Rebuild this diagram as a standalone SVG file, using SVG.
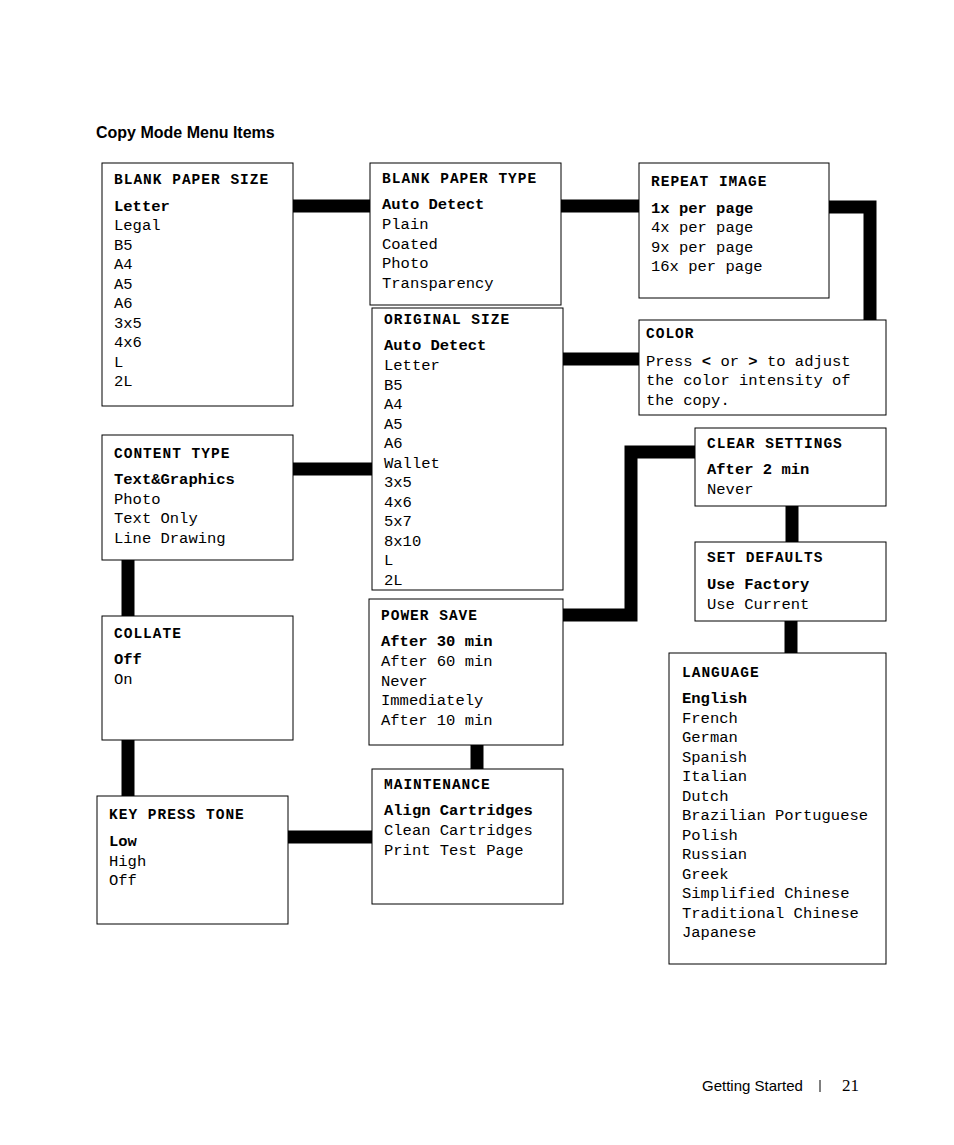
<svg xmlns="http://www.w3.org/2000/svg" width="954" height="1145" viewBox="0 0 954 1145">
<style>
rect{fill:#fff;stroke:#000;stroke-width:1}
text{font-family:"Liberation Mono","Courier New",monospace;font-size:15.5px;fill:#000}
.t{font-weight:bold;letter-spacing:1px;font-size:14.5px}
.b{font-weight:bold}
.c line,.c polyline{stroke:#000;stroke-width:13;fill:none}
</style>
<rect width="954" height="1145" style="stroke:none"/>
<text x="96" y="138" style="font-family:'Liberation Sans Narrow','Liberation Sans',sans-serif;font-weight:bold;font-size:16px">Copy Mode Menu Items</text>
<g class="c">
<line x1="293" y1="206" x2="370" y2="206"/>
<line x1="561" y1="206" x2="639" y2="206"/>
<polyline points="829,207 870,207 870,320"/>
<line x1="563" y1="359" x2="639" y2="359"/>
<line x1="293" y1="469" x2="372" y2="469"/>
<line x1="128" y1="560" x2="128" y2="616"/>
<line x1="128" y1="740" x2="128" y2="796"/>
<line x1="288" y1="837" x2="372" y2="837"/>
<line x1="477" y1="745" x2="477" y2="769"/>
<polyline points="563,615 631,615 631,452 695,452"/>
<line x1="792" y1="506" x2="792" y2="542"/>
<line x1="791" y1="621" x2="791" y2="653"/>
</g>
<g id="blank-paper-size"><rect x="102" y="163" width="191" height="243"/>
<text x="114" y="184" class="t">BLANK PAPER SIZE</text>
<text x="114" y="211" class="b">Letter</text>
<text x="114"><tspan x="114" y="230">Legal</tspan><tspan x="114" y="249.5">B5</tspan><tspan x="114" y="269">A4</tspan><tspan x="114" y="288.5">A5</tspan><tspan x="114" y="308">A6</tspan><tspan x="114" y="327.5">3x5</tspan><tspan x="114" y="347">4x6</tspan><tspan x="114" y="366.5">L</tspan><tspan x="114" y="386">2L</tspan></text></g>
<g id="blank-paper-type"><rect x="370" y="163" width="191" height="142"/>
<text x="382" y="183" class="t">BLANK PAPER TYPE</text>
<text x="382" y="209" class="b">Auto Detect</text>
<text><tspan x="382" y="229">Plain</tspan><tspan x="382" y="248.5">Coated</tspan><tspan x="382" y="268">Photo</tspan><tspan x="382" y="287.5">Transparency</tspan></text></g>
<g id="repeat-image"><rect x="639" y="163" width="190" height="135"/>
<text x="651" y="186" class="t">REPEAT IMAGE</text>
<text x="651" y="213" class="b">1x per page</text>
<text><tspan x="651" y="232">4x per page</tspan><tspan x="651" y="251.5">9x per page</tspan><tspan x="651" y="271">16x per page</tspan></text></g>
<g id="original-size"><rect x="372" y="308" width="191" height="282"/>
<text x="384" y="324" class="t">ORIGINAL SIZE</text>
<text x="384" y="350" class="b">Auto Detect</text>
<text><tspan x="384" y="370">Letter</tspan><tspan x="384" y="389.5">B5</tspan><tspan x="384" y="409">A4</tspan><tspan x="384" y="428.5">A5</tspan><tspan x="384" y="448">A6</tspan><tspan x="384" y="467.5">Wallet</tspan><tspan x="384" y="487">3x5</tspan><tspan x="384" y="506.5">4x6</tspan><tspan x="384" y="526">5x7</tspan><tspan x="384" y="545.5">8x10</tspan><tspan x="384" y="565">L</tspan><tspan x="384" y="584.5">2L</tspan></text></g>
<g id="color"><rect x="639" y="320" width="247" height="95"/>
<text x="646" y="338" class="t">COLOR</text>
<text><tspan x="646" y="366">Press <tspan class="b">&lt;</tspan> or <tspan class="b">&gt;</tspan> to adjust</tspan><tspan x="646" y="385">the color intensity of</tspan><tspan x="646" y="404.5">the copy.</tspan></text></g>
<g id="content-type"><rect x="102" y="435" width="191" height="125"/>
<text x="114" y="458" class="t">CONTENT TYPE</text>
<text x="114" y="484" class="b">Text&amp;Graphics</text>
<text><tspan x="114" y="503.5">Photo</tspan><tspan x="114" y="523">Text Only</tspan><tspan x="114" y="542.5">Line Drawing</tspan></text></g>
<g id="clear-settings"><rect x="695" y="428" width="191" height="78"/>
<text x="707" y="448" class="t">CLEAR SETTINGS</text>
<text x="707" y="474" class="b">After 2 min</text>
<text x="707" y="494">Never</text></g>
<g id="set-defaults"><rect x="695" y="542" width="191" height="79"/>
<text x="707" y="562" class="t">SET DEFAULTS</text>
<text x="707" y="589" class="b">Use Factory</text>
<text x="707" y="608.5">Use Current</text></g>
<g id="collate"><rect x="102" y="616" width="191" height="124"/>
<text x="114" y="638" class="t">COLLATE</text>
<text x="114" y="664" class="b">Off</text>
<text x="114" y="684">On</text></g>
<g id="power-save"><rect x="369" y="599" width="194" height="146"/>
<text x="381" y="620" class="t">POWER SAVE</text>
<text x="381" y="646" class="b">After 30 min</text>
<text><tspan x="381" y="666">After 60 min</tspan><tspan x="381" y="685.5">Never</tspan><tspan x="381" y="705">Immediately</tspan><tspan x="381" y="724.5">After 10 min</tspan></text></g>
<g id="language"><rect x="669" y="653" width="217" height="311"/>
<text x="682" y="677" class="t">LANGUAGE</text>
<text x="682" y="703" class="b">English</text>
<text><tspan x="682" y="722.5">French</tspan><tspan x="682" y="742">German</tspan><tspan x="682" y="761.5">Spanish</tspan><tspan x="682" y="781">Italian</tspan><tspan x="682" y="800.5">Dutch</tspan><tspan x="682" y="820">Brazilian Portuguese</tspan><tspan x="682" y="839.5">Polish</tspan><tspan x="682" y="859">Russian</tspan><tspan x="682" y="878.5">Greek</tspan><tspan x="682" y="898">Simplified Chinese</tspan><tspan x="682" y="917.5">Traditional Chinese</tspan><tspan x="682" y="937">Japanese</tspan></text></g>
<g id="key-press-tone"><rect x="97" y="796" width="191" height="128"/>
<text x="109" y="819" class="t">KEY PRESS TONE</text>
<text x="109" y="846" class="b">Low</text>
<text><tspan x="109" y="865.5">High</tspan><tspan x="109" y="885">Off</tspan></text></g>
<g id="maintenance"><rect x="372" y="769" width="191" height="135"/>
<text x="384" y="789" class="t">MAINTENANCE</text>
<text x="384" y="815" class="b">Align Cartridges</text>
<text><tspan x="384" y="835">Clean Cartridges</tspan><tspan x="384" y="854.5">Print Test Page</tspan></text></g>
<text x="702" y="1091" style="font-family:'Liberation Sans Narrow','Liberation Sans',sans-serif;font-size:15px">Getting Started</text>
<line x1="820" y1="1080" x2="820" y2="1092" style="stroke:#000;stroke-width:1"/>
<text x="842" y="1091" style="font-family:'Liberation Serif',serif;font-size:17px">21</text>
</svg>
